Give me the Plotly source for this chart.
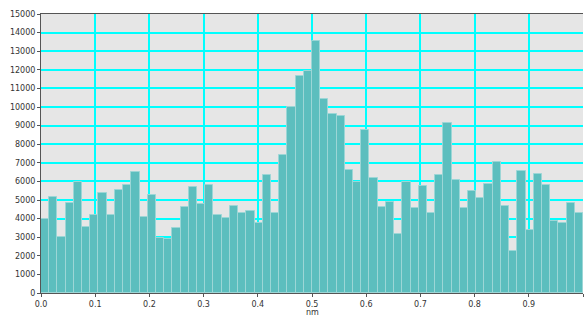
import numpy as np
import plotly.graph_objects as go

# bin counts (66 equal bins over 0..1 nm)
counts = [4000, 5170, 3030, 4840, 5990, 3550, 4220, 5350, 4170, 5520,
          5830, 6480, 4080, 5250, 2960, 2910, 3470, 4650, 5700, 4790,
          5830, 4170, 4030, 4690, 4300, 4420, 3750, 6320, 4310, 7420,
          10010, 11690, 11930, 13540, 10410, 9600, 9490, 6610, 5990, 8760,
          6180, 4620, 4910, 3170, 5990, 4570, 5750, 4310, 6330, 9150,
          6060, 4570, 5470, 5110, 5860, 7060, 4700, 2260, 6580, 3380,
          6380, 5790, 3880, 3780, 4840, 4310]
x_min, x_max = 0.0, 1.0
x_tickvals = [0.0, 0.1, 0.2, 0.3, 0.4, 0.5, 0.6, 0.7, 0.8, 0.9, 1.0]
x_ticktext = ["0.0", "0.1", "0.2", "0.3", "0.4", "0.5", "0.6", "0.7", "0.8", "0.9", "1"]
y_tickvals = list(range(0, 15001, 1000))
y_ticktext = [str(v) for v in y_tickvals]
x_title = "nm"

n = len(counts)
edges = np.linspace(x_min, x_max, n + 1)
centers = (edges[:-1] + edges[1:]) / 2
width = (x_max - x_min) / n

fig = go.Figure(go.Bar(
    x=centers, y=counts, width=width,
    marker=dict(color="#5cbebe", line=dict(color="#9cd6d6", width=1)),
))

font = dict(family="DejaVu Sans", size=8, color="#333333")
fig.update_layout(
    width=585, height=316,
    margin=dict(l=41, r=2, t=14, b=23, autoexpand=False),
    paper_bgcolor="white", plot_bgcolor="#e6e6e6",
    bargap=0, showlegend=False, font=font,
    annotations=[dict(text=x_title, x=0.5, xref="x", y=0, yref="paper",
                      yanchor="top", yshift=-13, showarrow=False, font=font)],
)
fig.update_xaxes(
    range=[x_min, x_max], tickvals=x_tickvals, ticktext=x_ticktext,
    showgrid=True, gridcolor="#00ffff", gridwidth=1.5,
    showline=True, linecolor="#555555", linewidth=1, mirror=True,
    ticks="outside", ticklen=3, tickcolor="#555555", tickfont=font,
    zeroline=False, automargin=False,
)
fig.update_yaxes(
    range=[0, 15000], tickvals=y_tickvals, ticktext=y_ticktext,
    showgrid=True, gridcolor="#00ffff", gridwidth=1.5,
    showline=True, linecolor="#555555", linewidth=1,
    ticks="outside", ticklen=3, tickcolor="#555555", tickfont=font,
    zeroline=False, automargin=False,
)
fig.write_html("out.html", config={"displayModeBar": False},
               post_script="document.body.style.margin='0';document.body.style.padding='0';")
